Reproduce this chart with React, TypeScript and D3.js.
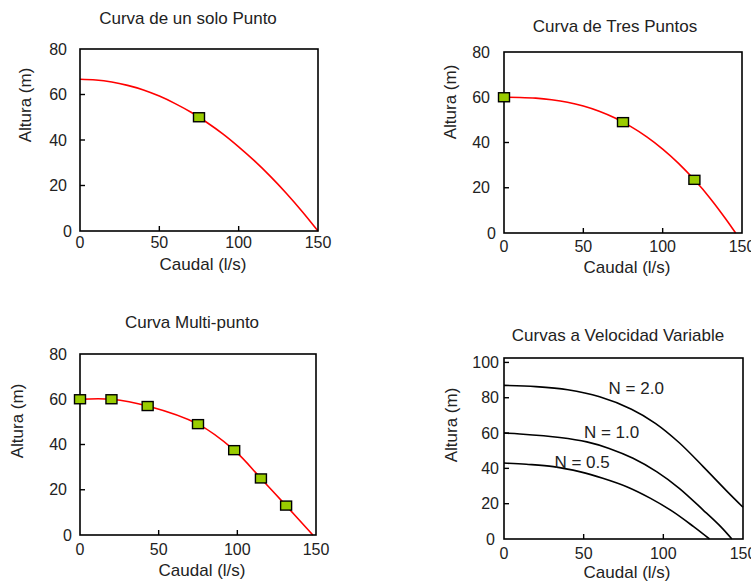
import React from 'react'
import * as d3 from 'd3'

// curva de un solo punto
const flowSingle = [0, 10, 20, 30, 40, 50, 60, 70, 80, 90, 100, 110, 120, 130, 140, 150]
const headSingle = [66.7, 66.4, 65.5, 64.0, 62.0, 59.3, 56.0, 52.2, 47.7, 42.7, 37.0, 30.8, 24.0, 16.6, 8.6, 0]
const ptsSingleQ = [75]
const ptsSingleH = [50]

// curva de tres puntos
const flowThree = [0, 10, 20, 30, 40, 50, 60, 70, 80, 90, 100, 110, 120, 130, 140, 146]
const headThree = [60, 59.9, 59.6, 58.9, 57.8, 56.1, 53.8, 50.8, 47.0, 42.5, 37.1, 30.8, 23.5, 15.3, 6.0, 0]
const ptsThreeQ = [0, 75, 120]
const ptsThreeH = [60, 49, 23.5]

// curva multi-punto
const flowMulti = [0, 20, 43, 75, 98, 115, 131, 148]
const headMulti = [60, 60, 57, 49, 37.5, 25, 13, 0]
const ptsMultiQ = [0, 20, 43, 75, 98, 115, 131]
const ptsMultiH = [60, 60, 57, 49, 37.5, 25, 13]

// curvas a velocidad variable
const flowN20 = [0, 20, 40, 60, 80, 95, 110, 125, 140, 150]
const headN20 = [87, 86.3, 84.5, 80.5, 73.5, 65.5, 54.5, 41, 27, 18]
const flowN10 = [0, 10, 35, 52, 66, 81, 96, 110, 125, 136, 143]
const headN10 = [60, 59.5, 57.5, 55, 51.3, 45.7, 38, 28.7, 16.4, 7, 0]
const flowN05 = [0, 14, 31, 48, 62, 77, 92, 106, 119, 129]
const headN05 = [43, 42.3, 41, 38, 34.4, 29.6, 23, 15.5, 7, 0]
const speedLabels = ['N = 2.0', 'N = 1.0', 'N = 0.5']

const xTicks = [0, 50, 100, 150]
const yTicks80 = [0, 20, 40, 60, 80]
const yTicks100 = [0, 20, 40, 60, 80, 100]

const FONT = '"Liberation Sans", Arial, sans-serif'
const TXT = '#222'

type Series = { q: number[]; h: number[]; color: string }

type PanelProps = {
  L: number; R: number; T: number; B: number
  yMax: number; yTicks: number[]
  title: string; titleX: number; titleY: number
  yLabX: number; yLabY: number
  xLabX: number; xLabY: number
  yGap: number; zeroGap: number; xLabOff: number
  series: Series[]
  ptsQ?: number[]; ptsH?: number[]
  notes?: { text: string; q: number; h: number }[]
}

function Panel(p: PanelProps) {
  const x = d3.scaleLinear().domain([0, 150]).range([p.L, p.R])
  const y = d3.scaleLinear().domain([0, p.yMax]).range([p.B, p.T])
  const line = d3.line<[number, number]>()
    .x(d => x(d[0]))
    .y(d => y(d[1]))
    .curve(d3.curveCatmullRom.alpha(0.5))

  return (
    <g fontFamily={FONT} fontSize={17} fill={TXT}>
      <text x={p.titleX} y={p.titleY} textAnchor="middle">{p.title}</text>
      {p.series.map((s, i) => (
        <path key={i} d={line(s.q.map((q, j) => [q, s.h[j]] as [number, number])) || ''}
          fill="none" stroke={s.color} strokeWidth={1.6} />
      ))}
      <rect x={p.L} y={p.T} width={p.R - p.L} height={p.B - p.T} fill="none" stroke="#000" strokeWidth={1.6} />
      {xTicks.filter(t => t > 0 && t < 150).map(t => (
        <line key={'xt' + t} x1={x(t)} x2={x(t)} y1={p.B} y2={p.B - 5} stroke="#000" strokeWidth={1.4} />
      ))}
      {p.yTicks.filter(t => t > 0 && y(t) > p.T + 2).map(t => (
        <line key={'yt' + t} x1={p.L} x2={p.L + 5} y1={y(t)} y2={y(t)} stroke="#000" strokeWidth={1.4} />
      ))}
      <g fontSize={16}>
        {xTicks.map(t => (
          <text key={'xl' + t} x={x(t)} y={p.B + p.xLabOff} textAnchor="middle">{t}</text>
        ))}
        {p.yTicks.map(t => (
          <text key={'yl' + t} x={p.L - (t === 0 ? p.zeroGap : p.yGap)} y={y(t)} dy="0.35em" textAnchor="end">{t}</text>
        ))}
      </g>
      {p.ptsQ && p.ptsH && p.ptsQ.map((q, i) => (
        <rect key={'pt' + i} x={x(q) - 5.5} y={y(p.ptsH![i]) - 4.5} width={11} height={9}
          fill="#99cc00" stroke="#000" strokeWidth={1.4} />
      ))}
      {p.notes && p.notes.map((n, i) => (
        <text key={'n' + i} x={x(n.q)} y={y(n.h)} textAnchor="middle">{n.text}</text>
      ))}
      <text x={p.xLabX} y={p.xLabY} textAnchor="middle">Caudal (l/s)</text>
      <text transform={`translate(${p.yLabX},${p.yLabY}) rotate(-90)`} textAnchor="middle" dy="0.35em">Altura (m)</text>
    </g>
  )
}

export default function App() {
  return (
    <div style={{ position: 'absolute', left: 0, top: 0 }}>
      <svg width={751} height={584} style={{ display: 'block', background: '#fff' }}>
        <Panel L={80} R={318} T={49} B={231} yMax={80} yTicks={yTicks80}
          title="Curva de un solo Punto" titleX={188} titleY={24}
          yLabX={25} yLabY={105} xLabX={203} xLabY={270}
          yGap={13} zeroGap={8} xLabOff={17}
          series={[{ q: flowSingle, h: headSingle, color: '#ff0000' }]}
          ptsQ={ptsSingleQ} ptsH={ptsSingleH} />
        <Panel L={504} R={742} T={52} B={233} yMax={80} yTicks={yTicks80}
          title="Curva de Tres Puntos" titleX={615} titleY={32}
          yLabX={450} yLabY={102} xLabX={627} xLabY={273}
          yGap={14} zeroGap={8} xLabOff={19}
          series={[{ q: flowThree, h: headThree, color: '#ff0000' }]}
          ptsQ={ptsThreeQ} ptsH={ptsThreeH} />
        <Panel L={80} R={316} T={354} B={535} yMax={80} yTicks={yTicks80}
          title="Curva Multi-punto" titleX={192} titleY={328}
          yLabX={17} yLabY={421} xLabX={202} xLabY={576}
          yGap={13} zeroGap={8} xLabOff={20}
          series={[{ q: flowMulti, h: headMulti, color: '#ff0000' }]}
          ptsQ={ptsMultiQ} ptsH={ptsMultiH} />
        <Panel L={504} R={743} T={358} B={539} yMax={102.5} yTicks={yTicks100}
          title="Curvas a Velocidad Variable" titleX={618} titleY={341}
          yLabX={451} yLabY={425} xLabX={627} xLabY={578}
          yGap={5} zeroGap={9} xLabOff={20}
          series={[
            { q: flowN20, h: headN20, color: '#000' },
            { q: flowN10, h: headN10, color: '#000' },
            { q: flowN05, h: headN05, color: '#000' },
          ]}
          notes={[
            { text: speedLabels[0], q: 83, h: 82 },
            { text: speedLabels[1], q: 67.5, h: 57 },
            { text: speedLabels[2], q: 49, h: 40 },
          ]} />
      </svg>
    </div>
  )
}
